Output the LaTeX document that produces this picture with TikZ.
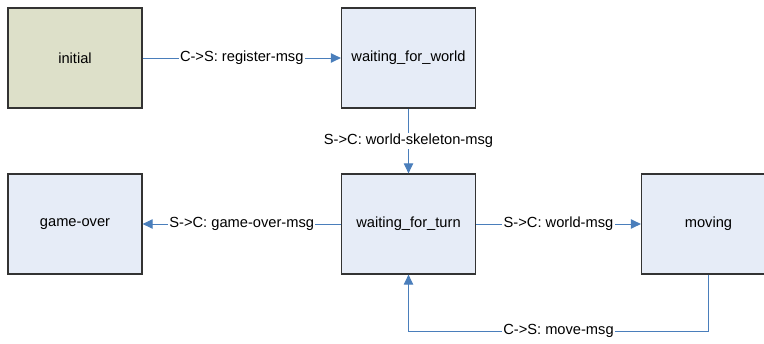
\documentclass[tikz,border=0pt]{standalone}
\usepackage{fontspec}
\setmainfont{Liberation Sans}
\usetikzlibrary{arrows.meta}
\definecolor{stateblue}{HTML}{E6ECF7}
\definecolor{stateolive}{HTML}{DDE0C9}
\definecolor{edgeblue}{HTML}{4A7EBB}
\definecolor{edgegray}{HTML}{333333}
\tikzset{
  state/.style={draw=edgegray, line width=0.9pt, fill=stateblue,
    minimum width=100.5pt, minimum height=75pt, inner sep=0pt,
    font=\fontsize{11}{13}\selectfont},
  start/.style={state, fill=stateolive},
  msg/.style={draw=edgeblue, line width=0.75pt,
    -{Triangle[length=7.5pt, width=7pt]}},
  msglabel/.style={fill=white, inner sep=1pt, font=\fontsize{11}{13}\selectfont}
}
\begin{document}
\begin{tikzpicture}[x=0.75pt, y=-0.75pt]
  \useasboundingbox (0,0) rectangle (764,343);
  % states
  \node[start] (initial) at (75,58)    {initial};
  \node[state] (wfw)     at (408.5,58) {waiting\_for\_world};
  \node[state] (over)    at (75,224)   {game-over};
  \node[state] (wft)     at (408.5,224){waiting\_for\_turn};
  \node[state] (moving)  at (708.5,224){moving};
  \coordinate (loopR) at (708.5,331);
  \coordinate (loopL) at (408.5,331);
  % transitions
  \draw[msg] (initial) -- node[msglabel] {C->S: register-msg} (wfw);
  \draw[msg] (wfw) -- node[msglabel, pos=0.5] {S->C: world-skeleton-msg} (wft);
  \draw[msg] (wft) -- node[msglabel] {S->C: game-over-msg} (over);
  \draw[msg] (wft) -- node[msglabel] {S->C: world-msg} (moving);
  \draw[msg] (moving.south) -- (loopR) -- node[msglabel] {C->S: move-msg} (loopL) -- (wft.south);
\end{tikzpicture}
\end{document}
